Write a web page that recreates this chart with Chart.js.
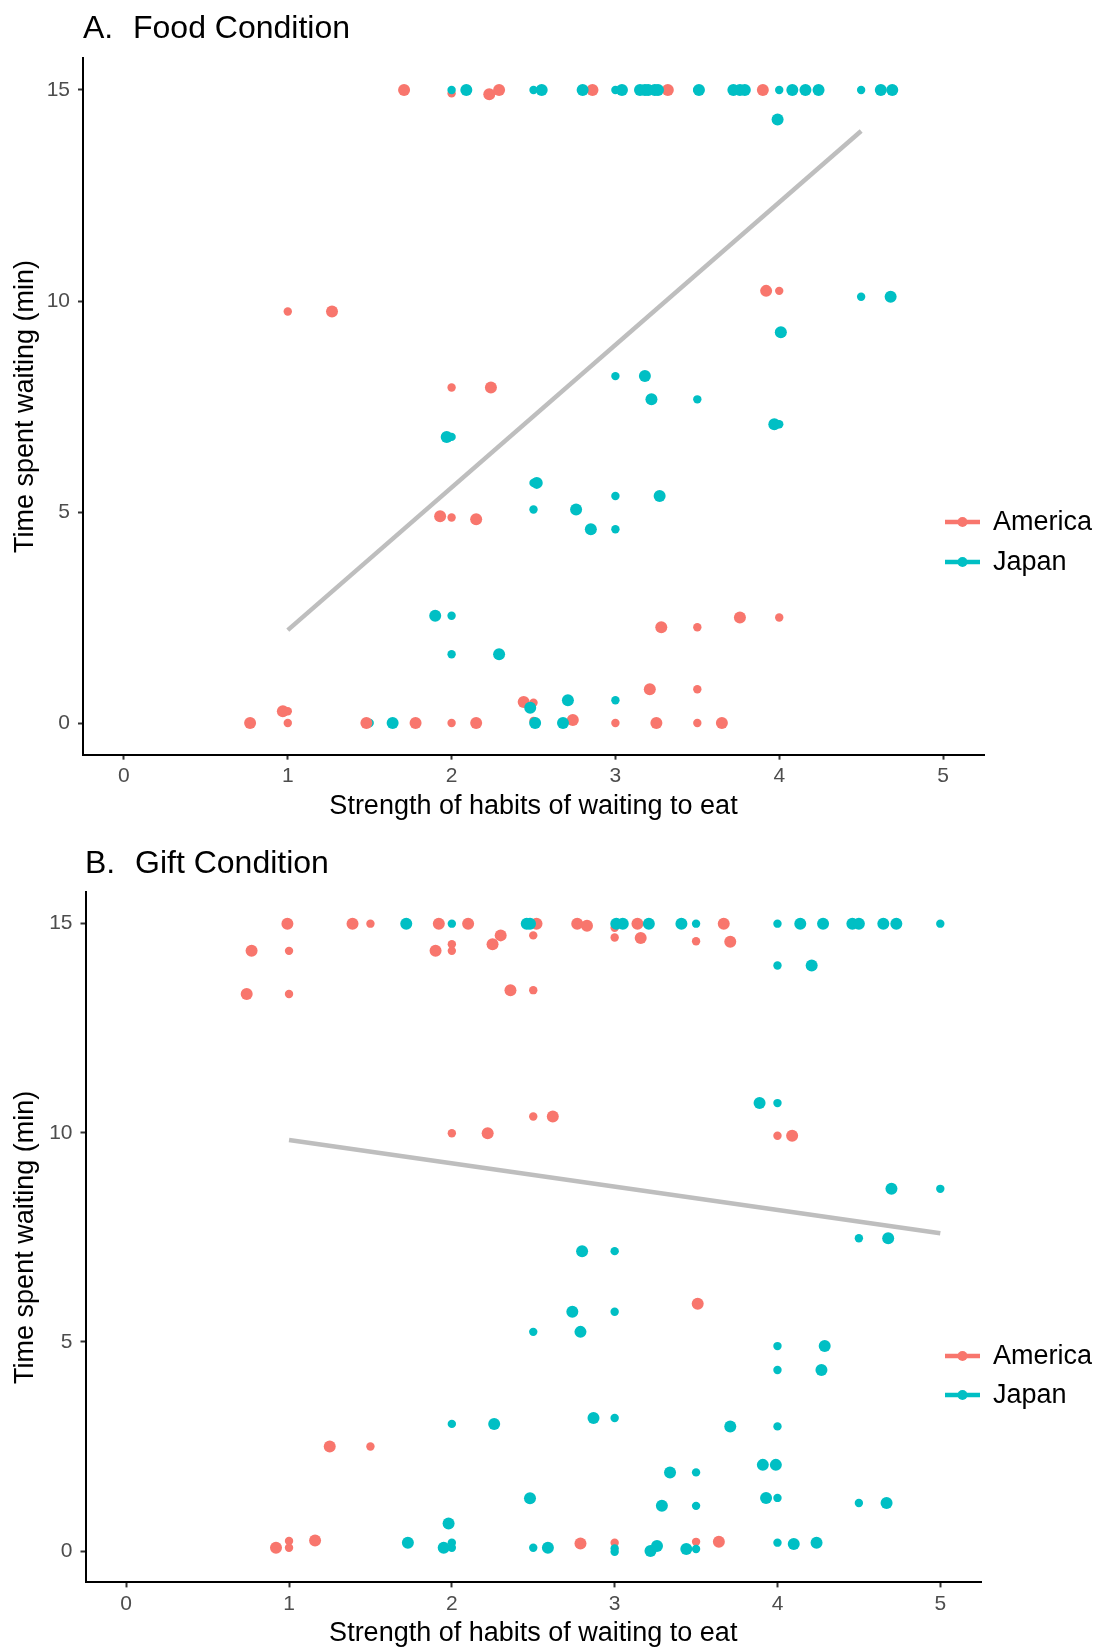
<!DOCTYPE html>
<html>
<head>
<meta charset="utf-8">
<script src="https://cdn.jsdelivr.net/npm/chart.js@4/dist/chart.umd.min.js"></script>
<style>
  html, body { margin: 0; padding: 0; background: #ffffff; }
  #wrap { position: relative; width: 1100px; height: 1651px; overflow: hidden; }
  canvas { position: absolute; left: 0; }
  #panelA { top: 0; }
  #panelB { top: 824px; }
</style>
</head>
<body>
<div id="wrap">
  <canvas id="panelA" width="1100" height="824"></canvas>
  <canvas id="panelB" width="1100" height="827"></canvas>
</div>
<script>
// ---------- tick labels ----------
const xTickValues = [0, 1, 2, 3, 4, 5];
const yTickValues = [0, 5, 10, 15];
const seriesNames = ['America', 'Japan'];

// ---------- Panel A: Food condition ----------
// exact (small) points
const foodAmericaX = [2.0, 1.0, 4.0, 2.0, 2.0, 3.5, 4.0, 3.5, 2.5, 1.0, 1.0, 2.0, 2.5, 3.0, 3.5];
const foodAmericaY = [14.92, 9.75, 10.24, 7.95, 4.87, 2.27, 2.5, 0.8, 0.48, 0.28, 0.0, 0.0, 0.05, 0.0, 0.0];
// jittered (large) points
const foodAmericaJitX = [1.71, 2.23, 2.29, 2.86, 3.32, 3.90, 1.27, 3.92, 2.24, 1.93, 2.15, 3.28, 3.76, 3.21, 2.44, 0.97, 0.77, 1.48, 1.78, 2.15, 2.74, 3.25, 3.65];
const foodAmericaJitY = [15, 14.9, 15, 15, 15, 15, 9.75, 10.24, 7.95, 4.9, 4.83, 2.27, 2.5, 0.8, 0.5, 0.28, 0, 0, 0, 0, 0.07, 0, 0];

const foodJapanX = [2.0, 2.5, 3.0, 3.5, 4.0, 4.5, 4.5, 4.0, 3.0, 3.5, 4.0, 2.0, 2.5, 3.0, 2.5, 3.0, 2.0, 2.0, 3.0, 1.5];
const foodJapanY = [15, 15, 15, 15, 15, 15, 10.1, 9.26, 8.22, 7.67, 7.08, 6.78, 5.69, 5.38, 5.06, 4.59, 2.54, 1.63, 0.54, 0];
const foodJapanJitX = [2.09, 2.55, 2.80, 3.04, 3.15, 3.18, 3.20, 3.24, 3.26, 3.51, 3.72, 3.76, 3.79, 4.08, 4.16, 4.24, 4.62, 4.69,
                       3.99, 4.68, 4.01, 3.18, 3.22, 3.97, 1.97, 2.52, 3.27, 2.76, 2.85, 1.90, 2.29, 2.71, 2.48, 1.64, 2.51, 2.68];
const foodJapanJitY = [15, 15, 15, 15, 15, 15, 15, 15, 15, 15, 15, 15, 15, 15, 15, 15, 15, 15,
                       14.3, 10.1, 9.26, 8.22, 7.67, 7.08, 6.78, 5.69, 5.38, 5.06, 4.59, 2.54, 1.63, 0.54, 0.36, 0, 0, 0];

const foodTrendX = [1.0, 4.5];
const foodTrendY = [2.2, 14.03];

// ---------- Panel B: Gift condition ----------
const giftAmericaX = [1.5, 3.0, 2.5, 3.0, 3.5, 2.0, 2.0, 1.0, 1.0, 2.5, 2.5, 2.0, 4.0, 1.5, 1.0, 1.0, 3.0, 3.5];
const giftAmericaY = [15, 14.9, 14.72, 14.67, 14.58, 14.51, 14.35, 14.35, 13.32, 13.41, 10.39, 9.99, 9.93, 2.5, 0.08, 0.24, 0.2, 0.22];
const giftAmericaJitX = [0.99, 1.39, 1.92, 2.10, 2.52, 2.77, 2.83, 3.14, 3.67,
                         2.30, 3.16, 3.71, 2.25, 1.90, 0.77, 0.74, 2.36, 2.62, 2.22, 4.09, 3.51, 1.25, 0.92, 1.16, 2.79, 3.64];
const giftAmericaJitY = [15, 15, 15, 15, 15, 15, 14.95, 15, 15,
                         14.72, 14.66, 14.57, 14.51, 14.35, 14.35, 13.32, 13.41, 10.39, 9.99, 9.93, 5.91, 2.5, 0.08, 0.25, 0.18, 0.22];

const giftJapanX = [2.0, 3.5, 4.0, 5.0, 4.0, 4.0, 5.0, 4.5, 3.0, 3.0, 2.5, 4.0, 4.0, 2.0, 3.0, 4.0, 3.5, 4.0, 3.5, 4.5, 2.0, 2.0, 2.5, 3.0, 3.0, 3.5, 4.0];
const giftJapanY = [15, 15, 15, 15, 14.0, 10.71, 8.66, 7.48, 7.17, 5.72, 5.24, 4.9, 4.33, 3.04, 3.18, 2.98, 1.88, 1.27, 1.08, 1.15, 0.2, 0.08, 0.08, 0.06, -0.02, 0.05, 0.2];
const giftJapanJitX = [1.72, 2.46, 2.48, 3.01, 3.05, 3.21, 3.41, 4.14, 4.28, 4.46, 4.50, 4.65, 4.73,
                       4.21, 3.89, 4.70, 4.68, 2.80, 2.74, 2.79, 4.29, 4.27, 2.26, 2.87, 3.71, 3.91, 3.99, 3.34, 2.48, 3.93, 3.29, 4.67, 1.98,
                       1.73, 1.95, 2.59, 3.22, 3.26, 3.44, 4.10, 4.24];
const giftJapanJitY = [15, 15, 15, 15, 15, 15, 15, 15, 15, 15, 15, 15, 15,
                       14.0, 10.71, 8.66, 7.48, 7.17, 5.72, 5.24, 4.9, 4.33, 3.04, 3.18, 2.98, 2.06, 2.06, 1.88, 1.26, 1.27, 1.08, 1.15, 0.66,
                       0.2, 0.08, 0.08, 0.0, 0.12, 0.05, 0.17, 0.2];

const giftTrendX = [1.0, 5.0];
const giftTrendY = [9.83, 7.6];

// ---------- styling ----------
const COL_AM = '#F8766D';
const COL_JP = '#00BFC4';
const FONT = "'Liberation Sans', Arial, Helvetica, sans-serif";
Chart.defaults.font.family = FONT;

function pts(xs, ys) { return xs.map((x, i) => ({ x: x, y: ys[i] })); }

const decorPlugin = {
  id: 'panelDecor',
  afterDraw(chart, args, opts) {
    const ctx = chart.ctx;
    ctx.save();
    // title
    ctx.fillStyle = '#000000';
    ctx.font = '32px ' + FONT;
    ctx.textBaseline = 'alphabetic';
    ctx.textAlign = 'left';
    ctx.fillText(opts.titleLetter, opts.titleX, opts.titleBaseline);
    ctx.fillText(opts.titleText, opts.titleX + 50, opts.titleBaseline);
    // legend
    const cols = [COL_AM, COL_JP];
    ctx.font = '27px ' + FONT;
    ctx.textBaseline = 'middle';
    for (let i = 0; i < seriesNames.length; i++) {
      const y = opts.legendY[i];
      ctx.strokeStyle = cols[i];
      ctx.lineWidth = 4.5;
      ctx.beginPath();
      ctx.moveTo(945, y);
      ctx.lineTo(980, y);
      ctx.stroke();
      ctx.fillStyle = cols[i];
      ctx.beginPath();
      ctx.arc(962.5, y, 5, 0, Math.PI * 2);
      ctx.fill();
      ctx.fillStyle = '#000000';
      ctx.fillText(seriesNames[i], 993, y + 1);
    }
    ctx.restore();
  }
};

function makePanel(id, p) {
  const datasets = [
    { type: 'line', label: 'trend', data: pts(p.trendX, p.trendY), borderColor: '#BEBEBE', borderWidth: 4.5,
      pointRadius: 0, fill: false, showLine: true, tension: 0 },
    { label: 'Japan jitter', data: pts(p.jpJX, p.jpJY), backgroundColor: COL_JP, pointRadius: 6, pointBorderWidth: 0, borderWidth: 0 },
    { label: 'America jitter', data: pts(p.amJX, p.amJY), backgroundColor: COL_AM, pointRadius: 6, pointBorderWidth: 0, borderWidth: 0 },
    { label: 'Japan', data: pts(p.jpX, p.jpY), backgroundColor: COL_JP, pointRadius: 4.2, pointBorderWidth: 0, borderWidth: 0 },
    { label: 'America', data: pts(p.amX, p.amY), backgroundColor: COL_AM, pointRadius: 4.2, pointBorderWidth: 0, borderWidth: 0 }
  ];
  return new Chart(document.getElementById(id), {
    type: 'scatter',
    data: { datasets },
    plugins: [decorPlugin],
    options: {
      responsive: false,
      animation: false,
      devicePixelRatio: 1,
      layout: { padding: p.padding },
      plugins: {
        legend: { display: false },
        tooltip: { enabled: false },
        panelDecor: { titleLetter: p.titleLetter, titleText: p.titleText, titleX: p.titleX, titleBaseline: p.titleBaseline, legendY: p.legendY }
      },
      scales: {
        x: {
          type: 'linear', min: -0.25, max: 5.25,
          afterBuildTicks: (s) => { s.ticks = xTickValues.map(v => ({ value: v })); },
          afterFit: (s) => { s.height = 68; },
          ticks: { color: '#4D4D4D', font: { size: 21 }, padding: 4, autoSkip: false, maxRotation: 0,
                   callback: (v) => String(v) },
          grid: { drawOnChartArea: false, drawTicks: true, tickLength: 5, tickColor: '#333333', tickWidth: 2 },
          border: { display: true, color: '#000000', width: 2 },
          title: { display: true, text: 'Strength of habits of waiting to eat', color: '#000000',
                   font: { size: 27 }, padding: { top: 0, bottom: 0.4 } }
        },
        y: {
          type: 'linear', min: -0.75, max: 15.75,
          afterBuildTicks: (s) => { s.ticks = yTickValues.map(v => ({ value: v })); },
          afterFit: (s) => { s.width = p.yWidth; },
          ticks: { color: '#4D4D4D', font: { size: 21 }, padding: 8, autoSkip: false,
                   callback: (v) => String(v) },
          grid: { drawOnChartArea: false, drawTicks: true, tickLength: 5, tickColor: '#333333', tickWidth: 2 },
          border: { display: true, color: '#000000', width: 2 },
          title: { display: true, text: 'Time spent waiting (min)', color: '#000000',
                   font: { size: 27 }, padding: { top: 9, bottom: 0 } }
        }
      }
    }
  });
}

makePanel('panelA', {
  amX: foodAmericaX, amY: foodAmericaY, amJX: foodAmericaJitX, amJY: foodAmericaJitY,
  jpX: foodJapanX, jpY: foodJapanY, jpJX: foodJapanJitX, jpJY: foodJapanJitY,
  trendX: foodTrendX, trendY: foodTrendY,
  padding: { left: 0, top: 58.35, right: 116, bottom: 1.35 }, yWidth: 83,
  titleLetter: 'A.', titleText: 'Food Condition', titleX: 83, titleBaseline: 37.5,
  legendY: [522, 562]
});

makePanel('panelB', {
  amX: giftAmericaX, amY: giftAmericaY, amJX: giftAmericaJitX, amJY: giftAmericaJitY,
  jpX: giftJapanX, jpY: giftJapanY, jpJX: giftJapanJitX, jpJY: giftJapanJitY,
  trendX: giftTrendX, trendY: giftTrendY,
  padding: { left: 0, top: 68.3, right: 119, bottom: 0.6 }, yWidth: 85.5,
  titleLetter: 'B.', titleText: 'Gift Condition', titleX: 85, titleBaseline: 48.5,
  legendY: [532, 571]
});
</script>
</body>
</html>
